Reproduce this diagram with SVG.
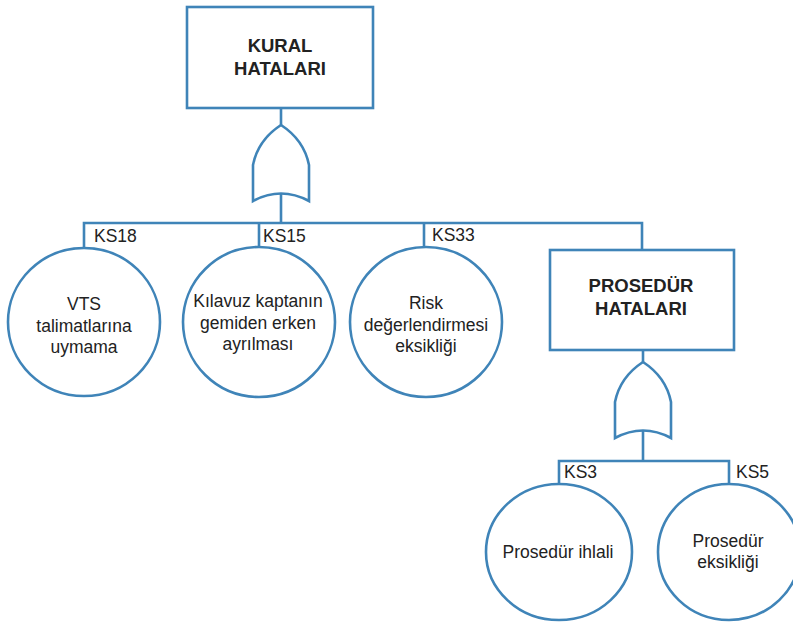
<svg xmlns="http://www.w3.org/2000/svg" width="793" height="623" viewBox="0 0 793 623">
  <style>
    .shape { fill: #ffffff; stroke: #3f84b8; stroke-width: 2.6; }
    .wire { fill: none; stroke: #3f84b8; stroke-width: 2.6; }
    .title { font-family: "Liberation Sans", Arial, sans-serif; font-size: 18.5px; font-weight: bold; fill: #222222; text-anchor: middle; }
    .label { font-family: "Liberation Sans", Arial, sans-serif; font-size: 17.5px; fill: #222222; text-anchor: middle; }
    .tag { font-family: "Liberation Sans", Arial, sans-serif; font-size: 17.5px; fill: #222222; }
  </style>
  <defs>
    <!-- OR gate outline, tip at origin -->
    <path id="orGate" d="M0,0 Q-23,15 -28,40 L-28,76 Q0,61 28,76 L28,40 Q23,15 0,0 Z"/>
  </defs>
  <rect width="793" height="623" fill="#ffffff"/>

  <!-- connectors -->
  <g id="connectors" class="wire">
    <path d="M281,108 V125"/>
    <path d="M281,193 V223"/>
    <path d="M84,248 V223 H642 V250"/>
    <path d="M259,223 V248"/>
    <path d="M424,223 V248"/>
    <path d="M643,350 V362"/>
    <path d="M643,430 V461"/>
    <path d="M559,484 V461 H729 V484"/>
  </g>

  <!-- gates -->
  <g id="gate-kural"><use href="#orGate" class="shape" x="281" y="125"/></g>
  <g id="gate-prosedur"><use href="#orGate" class="shape" x="643" y="362"/></g>

  <!-- top event -->
  <g id="kural-hatalari">
    <rect class="shape" x="187" y="7" width="186" height="101"/>
    <text class="title" x="280" y="52">KURAL</text>
    <text class="title" x="280" y="75">HATALARI</text>
  </g>

  <!-- branch labels -->
  <g id="tags">
    <text class="tag" x="94" y="242">KS18</text>
    <text class="tag" x="263" y="242">KS15</text>
    <text class="tag" x="432" y="241">KS33</text>
    <text class="tag" x="564" y="478">KS3</text>
    <text class="tag" x="736" y="478">KS5</text>
  </g>

  <!-- basic events -->
  <g id="ks18">
    <ellipse class="shape" cx="84" cy="322" rx="76" ry="74"/>
    <text class="label" x="84" y="310">VTS</text>
    <text class="label" x="84" y="332">talimatlarına</text>
    <text class="label" x="84" y="353">uymama</text>
  </g>
  <g id="ks15">
    <ellipse class="shape" cx="259" cy="322" rx="76" ry="75"/>
    <text class="label" x="258" y="307">Kılavuz kaptanın</text>
    <text class="label" x="258" y="329">gemiden erken</text>
    <text class="label" x="258" y="350">ayrılması</text>
  </g>
  <g id="ks33">
    <ellipse class="shape" cx="426" cy="322" rx="76" ry="75"/>
    <text class="label" x="426" y="309">Risk</text>
    <text class="label" x="426" y="331">değerlendirmesi</text>
    <text class="label" x="426" y="352">eksikliği</text>
  </g>

  <!-- intermediate event -->
  <g id="prosedur-hatalari">
    <rect class="shape" x="550" y="250" width="184" height="100"/>
    <text class="title" x="641" y="292">PROSEDÜR</text>
    <text class="title" x="641" y="315">HATALARI</text>
  </g>

  <g id="ks3">
    <ellipse class="shape" cx="559" cy="552" rx="73" ry="68"/>
    <text class="label" x="558" y="558">Prosedür ihlali</text>
  </g>
  <g id="ks5">
    <ellipse class="shape" cx="729" cy="552" rx="71" ry="68"/>
    <text class="label" x="728" y="547">Prosedür</text>
    <text class="label" x="728" y="568">eksikliği</text>
  </g>
</svg>
